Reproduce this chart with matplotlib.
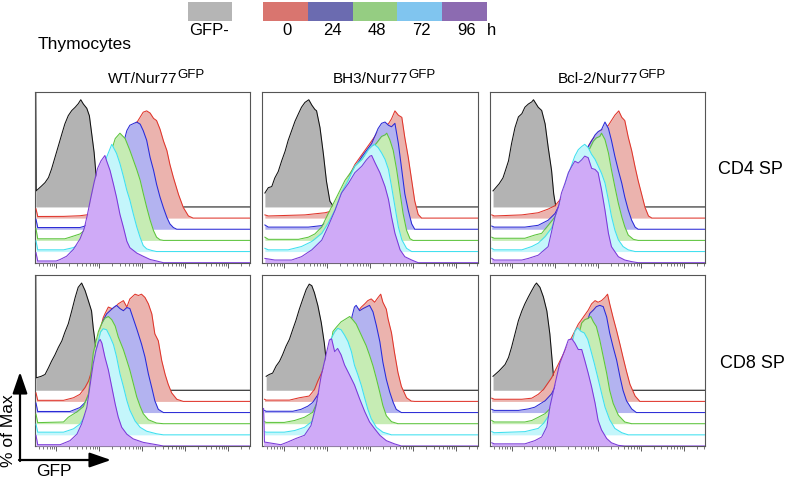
import numpy as np
import matplotlib
matplotlib.use("Agg")
import matplotlib.pyplot as plt
from matplotlib.patches import Rectangle
from matplotlib.ticker import LogLocator, NullFormatter

plt.rcParams['font.family'] = ['Liberation Sans', 'DejaVu Sans']

# ---- data: (log10 GFP, % of max) ----
genotypes = ['WT/Nur77', 'BH3/Nur77', 'Bcl-2/Nur77']
subsets = ['CD4 SP', 'CD8 SP']
legend_labels = ['0', '24', '48', '72', '96']

wt_cd4_gray = [(-0.475, 108), (-0.465, 15), (-0.34, 19.6), (-0.26, 22.7), (-0.18, 27.4), (-0.11, 35.2), (-0.03, 46.1),
               (0.05, 57), (0.13, 68), (0.2, 77.4), (0.28, 85.2), (0.36, 89.9), (0.44, 93), (0.51, 96.2), (0.57, 100),
               (0.63, 96), (0.71, 92), (0.77, 85), (0.82, 69.5), (0.88, 50.8), (0.92, 32), (0.96, 16.5), (0.99, 0)]
wt_cd4_h0 = [(-0.47, 8.7), (-0.43, 1.5), (0.17, 1.6), (0.55, 2.2), (0.78, 3.4), (0.86, 8), (0.94, 16), (1.17, 38),
             (1.4, 56.6), (1.64, 75), (1.87, 89), (2.02, 98.8), (2.1, 100), (2.18, 98), (2.26, 93), (2.33, 91), (2.41, 83),
             (2.49, 72), (2.57, 63), (2.64, 50), (2.72, 38), (2.84, 22), (2.95, 10), (3.07, 2), (3.18, 0)]
wt_cd4_h24 = [(-0.47, 9.4), (-0.43, 1.6), (0.55, 1.6), (0.67, 3), (0.77, 8), (0.86, 14), (1.09, 36), (1.33, 58),
              (1.56, 80), (1.64, 92), (1.71, 97), (1.87, 100), (1.95, 98), (2.02, 92), (2.1, 83), (2.18, 67), (2.26, 55),
              (2.33, 42), (2.41, 30), (2.49, 20), (2.57, 11), (2.64, 5), (2.72, 1.6), (2.8, 0)]
wt_cd4_h48 = [(-0.47, 11), (-0.43, 1.5), (0.2, 1.5), (0.32, 3), (0.55, 6), (0.71, 11), (0.86, 20), (0.94, 34),
              (1.17, 69), (1.37, 95), (1.48, 100), (1.6, 95), (1.71, 84), (1.79, 75), (1.87, 66), (1.95, 56), (2.02, 44),
              (2.1, 31), (2.18, 19), (2.26, 9), (2.33, 3), (2.41, 0.6), (2.49, 0)]
wt_cd4_h72 = [(-0.47, 10), (-0.43, 1.6), (0.17, 1.6), (0.4, 3.7), (0.63, 8.4), (0.74, 13), (0.86, 29), (1.02, 60),
              (1.17, 88), (1.29, 100), (1.4, 91.6), (1.48, 82), (1.56, 70), (1.64, 57), (1.71, 48), (1.79, 35),
              (1.87, 23), (1.95, 13), (2.02, 5.6), (2.1, 2.5), (2.22, 1), (2.33, 0)]
wt_cd4_h96 = [(-0.47, 9.4), (-0.43, 1.6), (0.0, 1.6), (0.09, 3), (0.24, 6), (0.4, 12.5), (0.55, 22), (0.65, 32),
              (0.72, 44), (0.8, 60), (0.88, 75), (0.96, 88), (1.04, 95), (1.13, 100), (1.17, 95), (1.25, 86), (1.33, 73),
              (1.4, 61), (1.48, 45), (1.56, 33), (1.64, 20), (1.71, 14), (1.87, 9), (2.02, 6), (2.18, 3), (2.33, 1.6),
              (2.49, 0)]

wt_cd8_gray = [(-0.475, 108), (-0.465, 11.6), (-0.35, 13), (-0.26, 14.7), (-0.18, 21), (-0.11, 27), (-0.03, 33),
               (0.05, 40), (0.13, 46), (0.2, 54), (0.28, 62), (0.36, 74), (0.44, 86.6), (0.51, 96), (0.59, 100),
               (0.67, 93), (0.75, 83), (0.82, 74), (0.86, 58), (0.9, 46), (0.94, 30), (0.98, 15), (1.02, 0)]
wt_cd8_h0 = [(-0.47, 8), (-0.43, 1), (0.17, 1), (0.4, 3.4), (0.55, 6.6), (0.67, 13), (0.75, 19), (0.82, 28),
             (0.86, 35), (0.98, 60), (1.09, 78), (1.13, 81.6), (1.21, 88), (1.33, 86), (1.44, 91), (1.56, 94), (1.64, 88),
             (1.71, 95.6), (1.83, 100), (1.91, 98.8), (1.98, 100), (2.06, 97), (2.14, 91), (2.22, 81.6), (2.29, 63),
             (2.37, 56.6), (2.45, 38), (2.53, 25), (2.6, 16), (2.68, 8), (2.8, 2), (2.95, 0)]
wt_cd8_h24 = [(-0.47, 9), (-0.43, 1), (0.32, 1), (0.55, 4.7), (0.67, 9.4), (0.78, 17), (0.9, 39), (1.02, 70),
              (1.09, 86), (1.17, 92), (1.25, 95), (1.33, 98), (1.4, 100), (1.48, 97), (1.56, 95), (1.64, 98), (1.71, 97),
              (1.79, 87.5), (1.87, 78), (1.98, 64), (2.06, 52), (2.14, 36), (2.22, 23), (2.29, 11), (2.37, 3), (2.49, 0)]
wt_cd8_h48 = [(-0.47, 9), (-0.43, 1), (0.17, 1.6), (0.28, 6), (0.36, 8), (0.48, 11), (0.63, 16), (0.75, 28),
              (0.86, 66), (0.98, 86), (1.06, 94), (1.13, 98.4), (1.21, 100), (1.29, 97), (1.37, 91), (1.44, 81),
              (1.56, 69), (1.64, 59), (1.71, 50), (1.79, 37.5), (1.87, 25), (1.95, 16), (2.02, 9.4), (2.14, 3.7),
              (2.33, 0.6), (2.49, 0)]
wt_cd8_h72 = [(-0.47, 10), (-0.43, 2.5), (0.17, 2.5), (0.4, 5.6), (0.55, 10), (0.71, 20), (0.82, 38), (0.9, 70),
              (0.98, 88), (1.03, 96), (1.09, 99), (1.17, 98), (1.25, 91.6), (1.33, 84), (1.4, 73), (1.48, 57),
              (1.56, 45), (1.64, 32), (1.71, 23), (1.83, 13), (1.95, 7), (2.1, 3.4), (2.33, 1), (2.49, 0)]
wt_cd8_h96 = [(-0.47, 10), (-0.43, 1.2), (0.09, 1.2), (0.32, 5), (0.48, 11), (0.59, 20.6), (0.71, 36), (0.78, 55),
              (0.86, 77), (0.92, 89), (0.98, 97), (1.02, 99.4), (1.06, 96), (1.13, 83), (1.21, 71), (1.29, 55),
              (1.37, 39), (1.44, 27), (1.52, 17.5), (1.64, 11), (1.79, 6.6), (2.02, 3.4), (2.33, 1.2), (2.49, 0)]

bh3_cd4_gray = [(-0.44, 13), (-0.36, 18), (-0.28, 19), (-0.21, 27), (-0.13, 33), (-0.05, 43), (0.03, 52), (0.1, 62),
                (0.18, 71), (0.26, 80), (0.34, 87), (0.41, 93), (0.49, 97.5), (0.58, 100), (0.65, 95), (0.72, 91),
                (0.76, 89.7), (0.84, 74), (0.92, 49), (0.99, 24), (1.07, 5.3), (1.15, 0.6), (1.2, 0)]
bh3_cd4_h0 = [(-0.44, 3), (-0.36, 2), (0.49, 3), (0.72, 4), (0.96, 5), (1.11, 6.6), (1.34, 25), (1.65, 50),
              (2.04, 72), (2.27, 85), (2.43, 88), (2.5, 92.5), (2.58, 100), (2.66, 96), (2.74, 94), (2.81, 75),
              (2.89, 56.6), (2.97, 35), (3.04, 16), (3.12, 3.4), (3.2, 0)]
bh3_cd4_h24 = [(-0.44, 4), (-0.36, 2), (0.57, 2), (0.88, 3.4), (1.03, 8), (1.19, 20.6), (1.34, 33), (1.57, 52),
               (1.81, 67.5), (2.04, 80), (2.19, 94), (2.27, 98.8), (2.35, 100), (2.43, 97), (2.5, 95.6), (2.58, 98.8),
               (2.66, 80), (2.74, 55), (2.81, 33), (2.89, 17.5), (2.97, 5), (3.04, 0)]
bh3_cd4_h48 = [(-0.44, 3), (-0.36, 1), (0.34, 1), (0.57, 3), (0.72, 6), (0.88, 12.5), (1.03, 25), (1.19, 37.5),
               (1.42, 56), (1.65, 69), (1.88, 78), (2.04, 86), (2.15, 90.6), (2.27, 97), (2.35, 98.4), (2.39, 100),
               (2.46, 94), (2.54, 84), (2.62, 66), (2.7, 44), (2.77, 25), (2.85, 9.4), (2.93, 1.6), (3.0, 0)]
bh3_cd4_h72 = [(-0.44, 3), (-0.36, 1.6), (0.1, 1.6), (0.41, 4.7), (0.65, 9.4), (0.88, 17), (1.03, 26.6), (1.19, 39),
               (1.34, 55), (1.5, 67), (1.65, 80), (1.81, 86), (1.96, 95), (2.04, 98.4), (2.1, 100), (2.19, 97),
               (2.27, 92), (2.35, 86), (2.43, 76.6), (2.5, 61), (2.58, 42), (2.66, 23), (2.74, 11), (2.85, 3), (2.97, 0)]
bh3_cd4_h96 = [(-0.44, 4), (-0.21, 2.5), (0.18, 2.5), (0.41, 5.6), (0.65, 12), (0.88, 21), (1.03, 34), (1.19, 49),
               (1.34, 65), (1.5, 74), (1.65, 84), (1.81, 90), (1.92, 96), (2.0, 99.4), (2.04, 100), (2.12, 93),
               (2.23, 84), (2.35, 71), (2.43, 59), (2.5, 43), (2.58, 27.5), (2.7, 12), (2.81, 5.6), (2.97, 2.5), (3.12, 0)]

bh3_cd8_gray = [(-0.41, 13), (-0.34, 14.7), (-0.26, 16), (-0.18, 22.5), (-0.1, 27), (-0.03, 33), (0.05, 41),
                (0.13, 47.5), (0.21, 57), (0.28, 65), (0.36, 75.6), (0.44, 85), (0.52, 94), (0.59, 99), (0.65, 97.5),
                (0.71, 91), (0.79, 79), (0.87, 63), (0.94, 44), (0.98, 29), (1.02, 10), (1.06, 0)]
bh3_cd8_h0 = [(-0.45, 2), (-0.41, 1.2), (0.13, 1.2), (0.36, 3.4), (0.59, 5), (0.71, 11), (0.79, 19), (1.02, 39),
              (1.33, 64), (1.64, 80), (1.8, 88), (1.88, 91), (1.95, 94), (2.03, 95.6), (2.11, 92.5), (2.19, 97),
              (2.25, 100), (2.3, 92.5), (2.38, 86), (2.42, 77), (2.5, 64), (2.57, 45.6), (2.65, 27), (2.73, 14),
              (2.85, 3.4), (2.96, 0.3), (3.04, 0)]
bh3_cd8_h24 = [(-0.45, 2), (-0.41, 1.2), (0.21, 1.2), (0.4, 3), (0.56, 6), (0.67, 9.4), (0.83, 19), (1.02, 37.5),
               (1.22, 59), (1.41, 75), (1.57, 87.5), (1.64, 98.4), (1.68, 100), (1.76, 95), (1.84, 97), (1.91, 98.4),
               (1.99, 100), (2.07, 94), (2.15, 81), (2.23, 66), (2.3, 47), (2.38, 31), (2.46, 19), (2.54, 9.4),
               (2.61, 3), (2.73, 0)]
bh3_cd8_h48 = [(-0.45, 2), (-0.41, 1.2), (0.01, 1.2), (0.25, 3), (0.48, 6), (0.67, 10.6), (0.87, 29), (1.02, 54),
               (1.14, 86), (1.22, 90), (1.33, 95), (1.45, 98), (1.53, 100), (1.6, 97), (1.68, 93), (1.76, 86),
               (1.84, 79), (1.91, 73), (1.99, 64), (2.07, 54), (2.15, 42), (2.23, 29), (2.3, 17), (2.38, 7.5),
               (2.5, 1.9), (2.65, 0)]
bh3_cd8_h72 = [(-0.45, 3), (-0.41, 2.5), (0.01, 2.5), (0.25, 4), (0.48, 7), (0.67, 13), (0.83, 34), (0.94, 62),
               (1.02, 74), (1.1, 90), (1.18, 96), (1.25, 99.4), (1.33, 98), (1.41, 93), (1.49, 87), (1.57, 77.5),
               (1.64, 65), (1.72, 56), (1.8, 46), (1.88, 34), (1.95, 24), (2.03, 15), (2.15, 7), (2.3, 2.5), (2.5, 0)]
bh3_cd8_h96 = [(-0.47, 35), (-0.45, 3.7), (-0.07, 1.2), (0.09, 3.7), (0.28, 7), (0.48, 10), (0.63, 19), (0.75, 38),
               (0.87, 66), (0.98, 85), (1.06, 99), (1.11, 100), (1.18, 88), (1.25, 91), (1.33, 85), (1.41, 75.6),
               (1.53, 66), (1.64, 57), (1.76, 44), (1.88, 32), (1.99, 22.5), (2.11, 16), (2.23, 10), (2.38, 5),
               (2.57, 2), (2.73, 0)]

bcl2_cd4_gray = [(-0.43, 15), (-0.29, 21.5), (-0.2, 27), (-0.15, 33), (-0.07, 43), (0.0, 59), (0.08, 74), (0.16, 84),
                 (0.24, 87), (0.31, 93), (0.39, 96), (0.47, 98), (0.51, 100), (0.62, 93), (0.7, 90), (0.78, 77.5),
                 (0.85, 56), (0.93, 34), (0.98, 12), (1.03, 0)]
bcl2_cd4_h0 = [(-0.46, 3), (-0.4, 2), (0.24, 3), (0.62, 5), (0.85, 8.4), (1.01, 11.6), (1.24, 22.5), (1.55, 50.6),
               (1.86, 72.5), (2.09, 82), (2.25, 86.6), (2.32, 91), (2.4, 96), (2.49, 100), (2.56, 94), (2.63, 91),
               (2.71, 75.6), (2.79, 63), (2.87, 47.5), (2.94, 35), (3.02, 22.5), (3.1, 10), (3.18, 2), (3.26, 0)]
bcl2_cd4_h24 = [(-0.46, 3), (-0.4, 2), (0.31, 2), (0.62, 3.7), (0.85, 8.4), (1.01, 14.7), (1.24, 33), (1.55, 58),
                (1.78, 77), (1.94, 88), (2.01, 91), (2.09, 93), (2.17, 100), (2.25, 94), (2.32, 83), (2.4, 68),
                (2.48, 55), (2.56, 43), (2.63, 30), (2.71, 18), (2.79, 8.4), (2.87, 2), (2.94, 0)]
bcl2_cd4_h48 = [(-0.46, 3), (-0.4, 2), (0.31, 2), (0.54, 5), (0.7, 6.6), (0.85, 14), (1.01, 22), (1.4, 50),
                (1.63, 72), (1.82, 86), (1.9, 92.5), (1.97, 95.6), (2.05, 97), (2.09, 100), (2.17, 94), (2.25, 81.6),
                (2.32, 66), (2.4, 50), (2.48, 34.7), (2.56, 22), (2.63, 12.8), (2.71, 5), (2.83, 1), (2.94, 0)]
bcl2_cd4_h72 = [(-0.46, 3), (-0.4, 1.6), (0.24, 1.6), (0.47, 4.7), (0.62, 7.8), (0.78, 14), (0.93, 22), (1.1, 40),
                (1.3, 70), (1.47, 89), (1.55, 95), (1.63, 98), (1.7, 100), (1.78, 97), (1.86, 90.6), (1.94, 86),
                (2.01, 80), (2.09, 73), (2.17, 64), (2.25, 48), (2.32, 33), (2.4, 20), (2.48, 11), (2.59, 4.7),
                (2.71, 1.6), (2.87, 0)]
bcl2_cd4_h96 = [(-0.46, 4), (-0.4, 2.5), (0.24, 2.5), (0.39, 4), (0.62, 7), (0.85, 15), (1.01, 43), (1.09, 52.5),
                (1.16, 65), (1.24, 74), (1.32, 84), (1.4, 90), (1.47, 94.7), (1.55, 93), (1.63, 96), (1.7, 99.4),
                (1.78, 98), (1.86, 88), (1.94, 87), (2.01, 84), (2.09, 68), (2.17, 49), (2.25, 27.5), (2.32, 15),
                (2.48, 5.6), (2.63, 2.5), (2.79, 1), (2.94, 0)]

bcl2_cd8_gray = [(-0.43, 13), (-0.29, 18), (-0.15, 24), (-0.07, 30.6), (0.0, 40), (0.08, 52.5), (0.16, 65), (0.24, 74),
                 (0.31, 80.6), (0.39, 87), (0.47, 93), (0.54, 98), (0.58, 100), (0.66, 96), (0.74, 87), (0.82, 74),
                 (0.89, 52.5), (0.93, 34), (0.97, 15), (1.01, 0)]
bcl2_cd8_h0 = [(-0.46, 3), (-0.4, 2), (0.24, 2), (0.47, 3), (0.62, 6.6), (0.74, 11), (0.93, 22), (1.24, 47),
               (1.55, 72), (1.78, 85), (1.86, 91), (1.94, 94), (2.01, 92.5), (2.09, 94), (2.17, 97), (2.23, 100),
               (2.28, 91), (2.36, 78), (2.44, 66), (2.52, 53), (2.59, 41), (2.67, 28), (2.75, 16), (2.87, 5), (2.98, 0)]
bcl2_cd8_h24 = [(-0.46, 3), (-0.4, 2), (0.16, 2), (0.39, 3.4), (0.54, 5), (0.66, 8), (0.78, 11), (0.93, 17.5),
                (1.09, 30), (1.32, 49), (1.55, 67.5), (1.74, 83), (1.82, 92.5), (1.9, 95.6), (1.97, 98.8), (2.05, 100),
                (2.13, 98.8), (2.21, 89), (2.28, 74), (2.36, 61), (2.44, 49), (2.52, 33), (2.59, 20.6), (2.67, 11),
                (2.79, 3.4), (2.9, 0)]
bcl2_cd8_h48 = [(-0.46, 3), (-0.4, 1.6), (0.31, 1.6), (0.47, 3), (0.62, 6), (0.78, 9.4), (0.93, 15.6), (1.09, 28),
                (1.24, 47), (1.4, 62.5), (1.55, 81), (1.63, 94), (1.7, 97), (1.78, 98.4), (1.84, 100), (1.9, 95),
                (1.97, 90.6), (2.05, 78), (2.13, 62.5), (2.21, 47), (2.28, 31), (2.36, 19), (2.48, 8), (2.63, 1.6),
                (2.79, 0)]
bcl2_cd8_h72 = [(-0.46, 3), (-0.4, 2), (0.31, 3), (0.62, 6), (0.74, 10.6), (0.85, 17), (1.01, 32.5), (1.16, 54),
                (1.32, 76), (1.4, 86), (1.47, 96.6), (1.53, 100), (1.61, 96.6), (1.69, 95), (1.77, 89), (1.84, 79),
                (1.92, 67), (2.0, 54), (2.09, 39), (2.17, 26), (2.28, 14), (2.4, 6), (2.56, 2), (2.71, 0)]
bcl2_cd8_h96 = [(-0.46, 3), (-0.4, 2), (0.31, 2), (0.54, 5), (0.7, 8.4), (0.82, 18), (0.89, 36.6), (1.01, 58),
                (1.12, 77), (1.24, 90), (1.32, 99), (1.4, 100), (1.47, 96), (1.55, 90), (1.63, 90), (1.7, 80),
                (1.78, 68), (1.86, 55), (1.94, 40), (2.01, 24), (2.09, 15), (2.21, 7), (2.32, 3), (2.48, 0.6), (2.63, 0)]

panels = [
    [wt_cd4_gray, wt_cd4_h0, wt_cd4_h24, wt_cd4_h48, wt_cd4_h72, wt_cd4_h96],
    [bh3_cd4_gray, bh3_cd4_h0, bh3_cd4_h24, bh3_cd4_h48, bh3_cd4_h72, bh3_cd4_h96],
    [bcl2_cd4_gray, bcl2_cd4_h0, bcl2_cd4_h24, bcl2_cd4_h48, bcl2_cd4_h72, bcl2_cd4_h96],
    [wt_cd8_gray, wt_cd8_h0, wt_cd8_h24, wt_cd8_h48, wt_cd8_h72, wt_cd8_h96],
    [bh3_cd8_gray, bh3_cd8_h0, bh3_cd8_h24, bh3_cd8_h48, bh3_cd8_h72, bh3_cd8_h96],
    [bcl2_cd8_gray, bcl2_cd8_h0, bcl2_cd8_h24, bcl2_cd8_h48, bcl2_cd8_h72, bcl2_cd8_h96],
]

# ---- styling ----
fill_cols = ['#b3b3b3', '#ebb3ae', '#b3b3f0', '#c6ecb4', '#c4f6fb', '#cfaaf7']
line_cols = ['#111111', '#e0352b', '#2a2ad6', '#5cc43c', '#3fe0ef', '#7a3ad9']
legend_cols = ['#d9756f', '#6b6bb0', '#95cd82', '#80c5ef', '#8c6bb1']
offsets = [52, 41.6, 31.2, 20.8, 10.4, 0]
dmin, dmax = -0.5, 4.5

W, H = 785, 480
fig = plt.figure(figsize=(W / 100, H / 100), dpi=100)

# overlay in pixel coords for legend / labels / arrows
ov = fig.add_axes([0, 0, 1, 1])
ov.set_xlim(0, W)
ov.set_ylim(H, 0)
ov.axis('off')

col_left = [34.7, 262.3, 490]
row_top = [91.7, 275]
pw, ph = 215.3, 171

for k, curves in enumerate(panels):
    r, c = divmod(k, 3)
    ax = fig.add_axes([col_left[c] / W, 1 - (row_top[r] + ph) / H, pw / W, ph / H])
    for i, pts in enumerate(curves):
        d = np.array([p[0] for p in pts] + [dmax])
        v = np.array([p[1] for p in pts] + [0])
        x = 10 ** d
        y = v + offsets[i]
        ax.fill_between(x, offsets[i], y, color=fill_cols[i], lw=0, zorder=2 * i + 1)
        ax.plot(x, y, color=line_cols[i], lw=0.75, zorder=2 * i + 2)
    ax.set_xscale('log')
    ax.set_xlim(10 ** dmin, 10 ** dmax)
    ax.set_ylim(0, 159.5)
    ax.xaxis.set_major_locator(LogLocator(base=10))
    ax.xaxis.set_minor_locator(LogLocator(base=10, subs=np.arange(2, 10)))
    ax.xaxis.set_major_formatter(NullFormatter())
    ax.xaxis.set_minor_formatter(NullFormatter())
    ax.tick_params(axis='x', which='major', direction='out', length=3.5, width=0.6, color='#444444')
    ax.tick_params(axis='x', which='minor', direction='out', length=2, width=0.5, color='#444444')
    ax.set_yticks([])
    for s in ax.spines.values():
        s.set_color('#555555')
        s.set_linewidth(0.8)

# column titles with superscript
fig.canvas.draw()
renderer = fig.canvas.get_renderer()
for c, g in enumerate(genotypes):
    t = ov.text(col_left[c] + pw / 2, 83, g, ha='center', va='baseline', fontsize=11)
    bb = t.get_window_extent(renderer=renderer)
    ov.text(bb.x1 + 0.5, 78.5, 'GFP', ha='left', va='baseline', fontsize=9.5)

# row labels
ov.text(718, 170, subsets[0], ha='left', va='center', fontsize=13)
ov.text(720, 363, subsets[1], ha='left', va='center', fontsize=13)

# legend
ov.text(38, 45, 'Thymocytes', ha='left', va='center', fontsize=12.5)
ov.add_patch(Rectangle((188, 2), 44, 19, color='#b5b5b5', lw=0))
ov.text(209, 35, 'GFP-', ha='center', va='baseline', fontsize=12)
seg = 44.8
for i, (lab, col) in enumerate(zip(legend_labels, legend_cols)):
    ov.add_patch(Rectangle((263 + i * seg, 2), seg, 19, color=col, lw=0))
    ov.text(263 + i * seg + seg / 2 + 2, 35, lab, ha='center', va='baseline', fontsize=12)
ov.text(487, 35, 'h', ha='left', va='baseline', fontsize=12)

# axis arrows
arrow = dict(arrowstyle='-|>,head_length=1.3,head_width=0.45', color='black', lw=1.6, mutation_scale=10,
             shrinkA=0, shrinkB=0)
ov.annotate('', xy=(20, 372), xytext=(20, 461), arrowprops=arrow)
ov.annotate('', xy=(111, 460), xytext=(19, 460), arrowprops=arrow)
ov.text(9, 431, '% of Max', rotation=90, ha='center', va='center', fontsize=12.5)
ov.text(54, 476.5, 'GFP', ha='center', va='baseline', fontsize=12.5)

fig.savefig('out.png', dpi=100)
